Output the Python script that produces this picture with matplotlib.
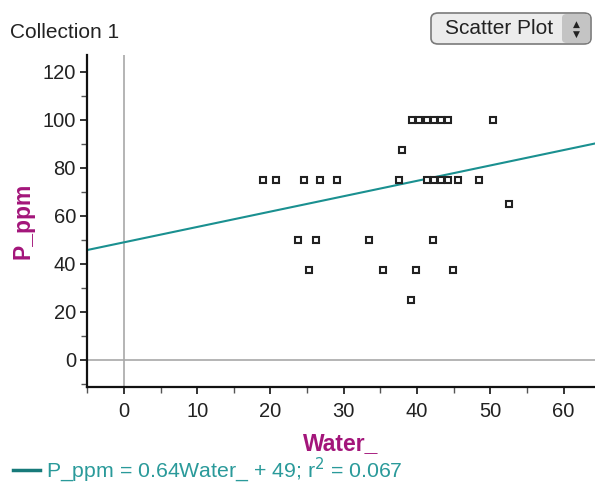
import matplotlib
matplotlib.use("Agg")
import matplotlib.pyplot as plt
from matplotlib.patches import FancyBboxPatch
from matplotlib.ticker import MultipleLocator
import numpy as np

plt.rcParams['font.family'] = ['Liberation Sans', 'DejaVu Sans']

# Data (Water_, P_ppm)
water = [19.0, 20.7, 24.6, 26.7, 29.1, 37.6, 41.3, 42.3, 43.3, 44.3, 45.6, 48.4,
         39.3, 40.3, 41.3, 42.3, 43.3, 44.3, 50.4,
         38.0, 52.5,
         23.7, 26.2, 33.5, 42.2,
         25.3, 35.4, 39.8, 44.9,
         39.2]
p_ppm = [75, 75, 75, 75, 75, 75, 75, 75, 75, 75, 75, 75,
         100, 100, 100, 100, 100, 100, 100,
         87.5, 65,
         50, 50, 50, 50,
         37.5, 37.5, 37.5, 37.5,
         25]
slope = 0.64
intercept = 49
r2 = 0.067

x_lim = (-5.05, 64.3)
y_lim = (-11.25, 127)

W, H = 595, 488
fig = plt.figure(figsize=(W / 100, H / 100), dpi=100)
ax = fig.add_axes([87 / W, 1 - 387 / H, (595 - 87) / W, (387 - 55) / H])

ax.set_xlim(*x_lim)
ax.set_ylim(*y_lim)

# grey zero lines
ax.axvline(0, color="#a8a8a8", lw=1.2, zorder=1)
ax.axhline(0, color="#a8a8a8", lw=1.2, zorder=1)

# regression line
xs = np.array(x_lim)
ax.plot(xs, slope * xs + intercept, color="#1a9090", lw=1.5, zorder=2, clip_on=True)

# points
ax.plot(water, p_ppm, linestyle="none", marker="s", markersize=5,
        markerfacecolor="white", markeredgecolor="#222222", markeredgewidth=1.5, zorder=3)

for s in ["top", "right"]:
    ax.spines[s].set_visible(False)
for s in ["left", "bottom"]:
    ax.spines[s].set_linewidth(1.6)
    ax.spines[s].set_color("#111111")

ax.xaxis.set_major_locator(MultipleLocator(10))
ax.xaxis.set_minor_locator(MultipleLocator(5))
ax.yaxis.set_major_locator(MultipleLocator(20))
ax.yaxis.set_minor_locator(MultipleLocator(10))
ax.tick_params(which="major", direction="out", length=5, width=1.2, color="#111111",
               labelsize=14.5, labelcolor="#222222", pad=3)
ax.tick_params(axis="x", which="major", pad=6)
ax.tick_params(which="minor", direction="out", length=4, width=1.0, color="#555555")
ax.set_xticks([0, 10, 20, 30, 40, 50, 60])
ax.set_yticks([0, 20, 40, 60, 80, 100, 120])

ax.set_xlabel("Water_", fontsize=16.5, fontweight="bold", color="#a3157a", labelpad=8)
ax.set_ylabel("P_ppm", fontsize=16.5, fontweight="bold", color="#a3157a", labelpad=6)

# title
fig.text(10 / W, 1 - 38 / H, "Collection 1", fontsize=15, color="#222222",
         ha="left", va="baseline")

# Scatter Plot button
btn = FancyBboxPatch((431 / W, 1 - 44 / H), (591 - 431) / W, (44 - 13) / H,
                     boxstyle="round,pad=0,rounding_size=0.012",
                     transform=fig.transFigure, facecolor="#ececec",
                     edgecolor="#7a7a7a", lw=1.2, zorder=5)
fig.patches.append(btn)
spin = FancyBboxPatch((562 / W, 1 - 43 / H), (590 - 562) / W, (43 - 14) / H,
                      boxstyle="round,pad=0,rounding_size=0.008",
                      transform=fig.transFigure, facecolor="#c4c4c4",
                      edgecolor="none", zorder=6)
fig.patches.append(spin)
fig.text(499 / W, 1 - 29 / H, "Scatter Plot", fontsize=15, color="#222222",
         ha="center", va="center", zorder=7)
fig.text(576 / W, 1 - 24 / H, "▲", fontsize=6.5, color="#222222",
         ha="center", va="center", zorder=7, family=["DejaVu Sans"])
fig.text(576 / W, 1 - 34 / H, "▼", fontsize=6.5, color="#222222",
         ha="center", va="center", zorder=7, family=["DejaVu Sans"])

# legend line and equation
fig.lines.append(plt.Line2D([13 / W, 40 / W], [1 - 470 / H, 1 - 470 / H],
                            transform=fig.transFigure, color="#177a7a", lw=2.5))
fig.text(46 / W, 1 - 470 / H,
         f"P_ppm = {slope}Water_ + {intercept}; r$^2$ = {r2}",
         fontsize=15.3, color="#2a9a9a", ha="left", va="center")

fig.savefig("out.png", dpi=100)
